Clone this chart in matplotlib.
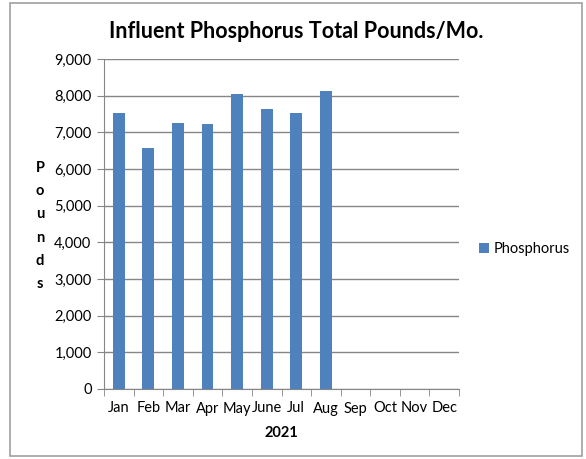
import matplotlib
matplotlib.use("Agg")
import matplotlib.pyplot as plt
from matplotlib.patches import Rectangle
import numpy as np

meses = ["Jan", "Feb", "Mar", "Apr", "May", "June", "Jul", "Aug",
         "Sep", "Oct", "Nov", "Dec"]
fosforo = [7530, 6580, 7260, 7235, 8045, 7635, 7530, 8125]
yticks = np.arange(0, 9001, 1000)

plt.rcParams["font.family"] = ["Lato", "DejaVu Sans"]

W, H = 586, 459
fig = plt.figure(figsize=(W / 100, H / 100), dpi=100)
# moldura externa
fig.patches.append(Rectangle((10 / W, 1 - 456 / H), 572 / W, 453 / H,
                             transform=fig.transFigure, fill=False,
                             edgecolor="#a0a0a0", linewidth=1.2))

ax = fig.add_axes([104 / W, 1 - 389 / H, 355 / W, 330 / H])
x = np.arange(len(fosforo))
barras = ax.bar(x, fosforo, width=0.4, color="#4f81bd", label="Phosphorus",
                zorder=3)

ax.set_xlim(-0.5, len(meses) - 0.5)
ax.set_ylim(0, 9000)
ax.set_yticks(yticks)
ax.set_yticklabels([f"{v:,}" for v in yticks], fontsize=10.5)
ax.set_xticks(np.arange(len(meses)))
ax.set_xticklabels(meses, fontsize=10.5)
ax.set_xticks(np.arange(len(meses) + 1) - 0.5, minor=True)
ax.tick_params(axis="x", which="major", length=0, pad=9)
ax.tick_params(axis="x", which="minor", length=5, color="#868686")
ax.tick_params(axis="y", length=5, color="#868686", pad=4)
ax.grid(axis="y", color="#868686", linewidth=1, zorder=0)
for lado in ["top", "right"]:
    ax.spines[lado].set_visible(False)
for lado in ["left", "bottom"]:
    ax.spines[lado].set_color("#868686")

fig.text(296 / W, 1 - 31 / H, "Influent Phosphorus Total Pounds/Mo.",
         ha="center", va="center", fontsize=15.5, fontweight="bold")
fig.text(281 / W, 1 - 433 / H, "2021", ha="center", va="center",
         fontsize=10.5, fontweight="bold")
fig.text(40 / W, 1 - 226 / H, "\n".join("Pounds"), ha="center", va="center",
         fontsize=10.5, fontweight="bold", linespacing=1.85)

ax.legend(loc="center left", bbox_to_anchor=(466 / W, 1 - 249 / H),
          bbox_transform=fig.transFigure, frameon=False, fontsize=10.5,
          handlelength=0.7, handleheight=0.7, handletextpad=0.3)

fig.savefig("out.png", dpi=100)
